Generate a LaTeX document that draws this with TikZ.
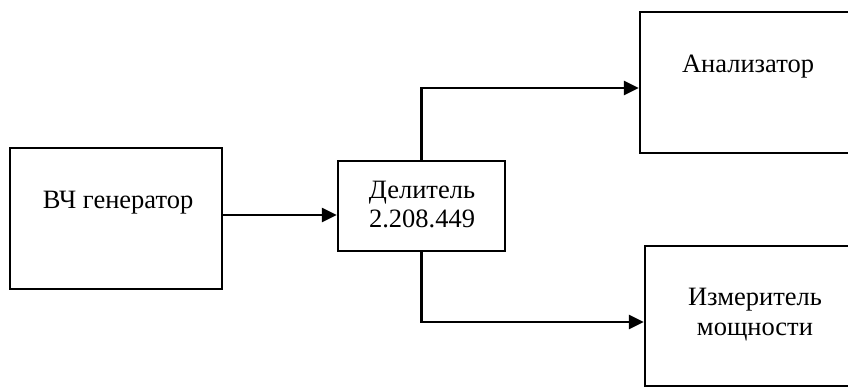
\documentclass[tikz,border=0pt]{standalone}
\usepackage{fontspec}
\setmainfont{Liberation Serif}
\usetikzlibrary{arrows.meta}
\begin{document}
\begin{tikzpicture}[x=1pt,y=-1pt,
  blk/.style={draw, line width=2.3pt, rectangle, inner sep=0pt},
  lbl/.style={font=\fontsize{26.5}{30}\selectfont, inner sep=0pt, align=center},
  arr/.style={line width=2.3pt, -{Triangle[length=15pt,width=14pt]}}]
\useasboundingbox (0,0) rectangle (848,388);
\clip (0,0) rectangle (848,388);
% boxes
\node[blk, minimum width=212pt, minimum height=141pt] (gen) at (116,218.5) {};
\node[blk, minimum width=167pt, minimum height=90pt] (del) at (421.5,206) {};
\node[blk, minimum width=230pt, minimum height=141pt] (ana) at (755,82.5) {};
\node[blk, minimum width=220pt, minimum height=140pt] (izm) at (755,316) {};
% texts
\node[lbl, anchor=base] (genT) at (118,208) {ВЧ генератор};
\node[lbl, anchor=base] (delT) at (422,227) {Делитель\\[-1pt]2.208.449};
\node[lbl, anchor=base] (anaT) at (748,72) {Анализатор};
\node[lbl, anchor=base] (izmT) at (755,335) {Измеритель\\[0pt]мощности};
% connectors
\coordinate (midY) at (0,215);
\coordinate (upY) at (0,88);
\coordinate (loY) at (0,322);
\draw[arr] (gen.east |- midY) -- (del.west |- midY);
\draw[arr] (del.north) |- (ana.west |- upY);
\draw[arr] (del.south) |- (izm.west |- loY);
\end{tikzpicture}
\end{document}
